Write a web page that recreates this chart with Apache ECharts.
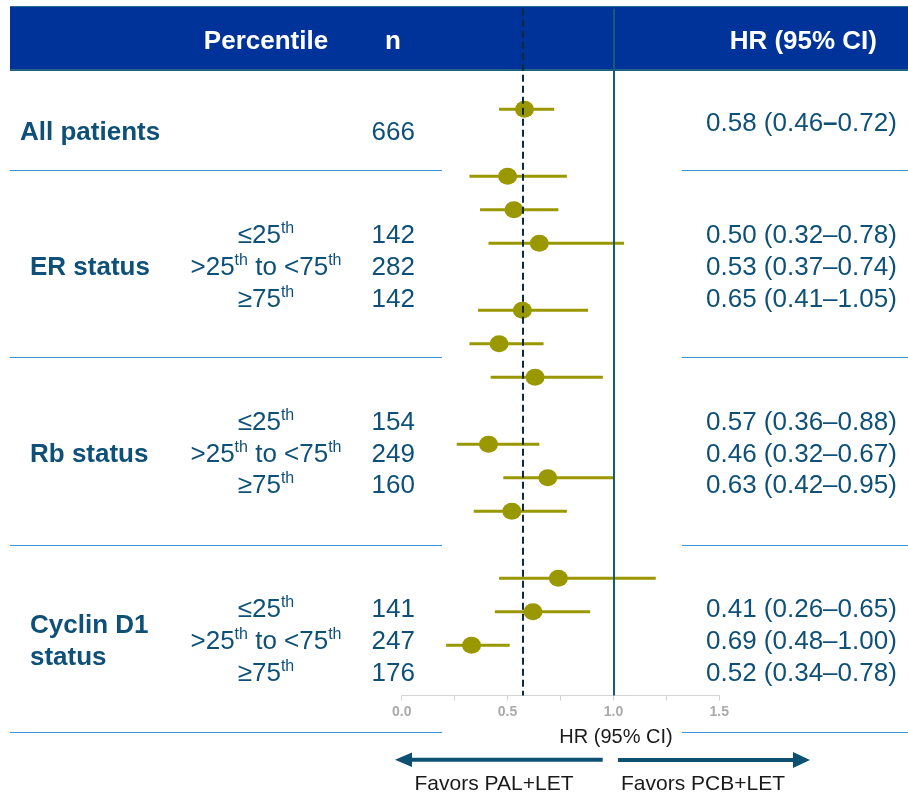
<!DOCTYPE html>
<html>
<head>
<meta charset="utf-8">
<script src="https://cdn.jsdelivr.net/npm/echarts@6/dist/echarts.min.js"></script>
<style>
  html, body { margin: 0; padding: 0; background: #ffffff; }
  #chart { width: 908px; height: 794px; }
</style>
</head>
<body>
<div id="chart"></div>
<script>
// ---- Table content ----
const groupNames = ['All patients', 'ER status', 'Rb status', 'Cyclin D1\nstatus'];
const percentileLabels = ['≤25th', '>25th to <75th', '≥75th'];
const nValues = [666, 142, 282, 142, 154, 249, 160, 141, 247, 176];

// ---- Hazard ratio estimates, top to bottom ----
const hrValues = [0.58, 0.50, 0.53, 0.65, 0.57, 0.46, 0.63, 0.41, 0.69, 0.52, 0.74, 0.62, 0.33];
const ciLower  = [0.46, 0.32, 0.37, 0.41, 0.36, 0.32, 0.42, 0.26, 0.48, 0.34, 0.46, 0.44, 0.21];
const ciUpper  = [0.72, 0.78, 0.74, 1.05, 0.88, 0.67, 0.95, 0.65, 1.00, 0.78, 1.20, 0.89, 0.51];
// vertical slot of each estimate (empty slots separate the subgroups)
const plotSlots = [0, 2, 3, 4, 6, 7, 8, 10, 11, 12, 14, 15, 16];

// ---- Axis / reference lines ----
const xTickLabels = [0, 0.5, 1.0, 1.5];
const noEffectHR = 1.0;
const overallGuideHR = 0.57;

const headerLabels = ['Percentile', 'n', 'HR (95% CI)'];
const axisTitle = 'HR (95% CI)';
const favorLabels = ['Favors PAL+LET', 'Favors PCB+LET'];

// ---- Styling ----
const FONT = '"Liberation Sans", Arial, Helvetica, sans-serif';
const TEXT = '#0e5078';
const OLIVE = '#9a9800';
const SEP = '#3f92d8';
const ARROW = '#0e4f74';

// row centres for the table text (px)
const rowY = [133, 236, 268, 300, 423, 454.5, 486, 610, 642, 674];
const hrRowY = [124, 236, 268, 300, 423, 454.5, 486, 610, 642, 674];
const groupLabelPos = [[20, 133], [30, 268], [30, 454.5], [30, 642]];

function fmt(v) { return v.toFixed(2); }

function supRich(label) {
  // '25th' -> rich tokens with superscript 'th'
  return label.split('th').map((part, i, arr) =>
    (part ? '{b|' + part + '}' : '') + (i < arr.length - 1 ? '{s|th}' : '')
  ).join('');
}

const bodyRich = {
  b: { fontSize: 26, fontFamily: FONT, fill: TEXT, lineHeight: 30 },
  s: { fontSize: 16, fontFamily: FONT, fill: TEXT, verticalAlign: 'top', lineHeight: 16 },
  bd: { fontSize: 26, fontFamily: FONT, fill: TEXT, fontWeight: 'bold', lineHeight: 30 }
};

const graphics = [];

// header band
graphics.push({ type: 'rect', z: 0, shape: { x: 10, y: 6, width: 898, height: 65 },
  style: { fill: '#003399' } });
graphics.push({ type: 'line', z: 0, shape: { x1: 10, y1: 6.5, x2: 908, y2: 6.5 },
  style: { stroke: '#2b6d8c', lineWidth: 1 } });
graphics.push({ type: 'line', z: 0, shape: { x1: 10, y1: 70, x2: 908, y2: 70 },
  style: { stroke: '#1f6383', lineWidth: 2 } });

const headerFont = 'bold 26px ' + FONT;
graphics.push({ type: 'text', z: 10, x: 266, y: 41.5, style: { text: headerLabels[0], font: headerFont, fill: '#ffffff', align: 'center', verticalAlign: 'middle' } });
graphics.push({ type: 'text', z: 10, x: 393, y: 41.5, style: { text: headerLabels[1], font: headerFont, fill: '#ffffff', align: 'center', verticalAlign: 'middle' } });
graphics.push({ type: 'text', z: 10, x: 877, y: 41.5, style: { text: headerLabels[2], font: headerFont, fill: '#ffffff', align: 'right', verticalAlign: 'middle' } });

// separators
[170.5, 357.5, 545.5, 732.5].forEach(function (y) {
  graphics.push({ type: 'line', shape: { x1: 10, y1: y, x2: 442, y2: y }, style: { stroke: SEP, lineWidth: 1 } });
  graphics.push({ type: 'line', shape: { x1: 682, y1: y, x2: 908, y2: y }, style: { stroke: SEP, lineWidth: 1 } });
});

// group names
groupNames.forEach(function (g, i) {
  graphics.push({ type: 'text', x: groupLabelPos[i][0], y: groupLabelPos[i][1],
    style: { text: g, font: 'bold 26px ' + FONT, fill: TEXT, align: 'left', verticalAlign: 'middle', lineHeight: 32 } });
});

// percentile, n and HR columns
nValues.forEach(function (n, i) {
  if (i > 0) {
    graphics.push({ type: 'text', x: 266, y: rowY[i],
      style: { text: supRich(percentileLabels[(i - 1) % 3]), rich: bodyRich, align: 'center', verticalAlign: 'middle' } });
  }
  graphics.push({ type: 'text', x: 415, y: rowY[i],
    style: { text: String(n), font: '26px ' + FONT, fill: TEXT, align: 'right', verticalAlign: 'middle' } });
  const dash = i === 0 ? '{bd|–}' : '{b|–}';
  const hrText = '{b|' + fmt(hrValues[i]) + ' (' + fmt(ciLower[i]) + '}' + dash + '{b|' + fmt(ciUpper[i]) + ')}';
  graphics.push({ type: 'text', x: 706, y: hrRowY[i],
    style: { text: hrText, rich: bodyRich, align: 'left', verticalAlign: 'middle' } });
});

// axis title and direction arrows
graphics.push({ type: 'text', x: 616, y: 737, style: { text: axisTitle, font: '20px ' + FONT, fill: '#1a1a1a', align: 'center', verticalAlign: 'middle' } });
graphics.push({ type: 'rect', shape: { x: 410, y: 757.7, width: 192.7, height: 4 }, style: { fill: ARROW } });
graphics.push({ type: 'polygon', shape: { points: [[395, 759.7], [412, 752.5], [412, 767]] }, style: { fill: ARROW } });
graphics.push({ type: 'rect', shape: { x: 618, y: 758, width: 177, height: 4 }, style: { fill: ARROW } });
graphics.push({ type: 'polygon', shape: { points: [[810, 760], [793, 752], [793, 768]] }, style: { fill: ARROW } });
graphics.push({ type: 'text', x: 494, y: 784, style: { text: favorLabels[0], font: '21px ' + FONT, fill: '#1a1a1a', align: 'center', verticalAlign: 'middle' } });
graphics.push({ type: 'text', x: 621, y: 784, style: { text: favorLabels[1], font: '21px ' + FONT, fill: '#1a1a1a', align: 'left', verticalAlign: 'middle' } });

const chart = echarts.init(document.getElementById('chart'), null, { renderer: 'canvas' });

chart.setOption({
  animation: false,
  backgroundColor: '#ffffff',
  grid: { left: 401.7, right: 188.7, top: 8.8, bottom: 98.4, containLabel: false },
  xAxis: {
    type: 'value', min: 0, max: 1.5, interval: 0.25, position: 'bottom',
    axisLine: { show: true, onZero: false, lineStyle: { color: '#d4d4d4', width: 1 } },
    axisTick: { show: true, length: 5, lineStyle: { color: '#d4d4d4' } },
    splitLine: { show: false },
    axisLabel: {
      margin: 10, fontFamily: FONT, fontSize: 14, fontWeight: 'bold', color: '#aaaaaa',
      formatter: function (v) {
        return xTickLabels.some(function (t) { return Math.abs(t - v) < 1e-9; }) ? v.toFixed(1) : '';
      }
    }
  },
  yAxis: { type: 'value', min: -3, max: 17.5, inverse: true, show: false },
  graphic: { elements: graphics },
  series: [
    {
      type: 'custom',
      z: 3,
      encode: { x: [0, 1], y: 2 },
      data: plotSlots.map(function (s, i) { return [ciLower[i], ciUpper[i], s]; }),
      renderItem: function (params, api) {
        const a = api.coord([api.value(0), api.value(2)]);
        const b = api.coord([api.value(1), api.value(2)]);
        return { type: 'line', shape: { x1: a[0], y1: a[1], x2: b[0], y2: b[1] },
          style: { stroke: OLIVE, lineWidth: 3 } };
      }
    },
    {
      type: 'scatter',
      z: 4,
      symbol: 'circle',
      symbolSize: [19, 17],
      itemStyle: { color: OLIVE, opacity: 1 },
      data: plotSlots.map(function (s, i) { return [hrValues[i], s]; }),
      markLine: {
        silent: true,
        symbol: ['none', 'none'],
        label: { show: false },
        data: [
          { xAxis: noEffectHR, lineStyle: { color: '#1a5878', width: 2, type: 'solid' } },
          { xAxis: overallGuideHR, lineStyle: { color: '#0f2a3f', width: 2, type: [7, 4] } }
        ]
      }
    }
  ]
});
</script>
</body>
</html>
